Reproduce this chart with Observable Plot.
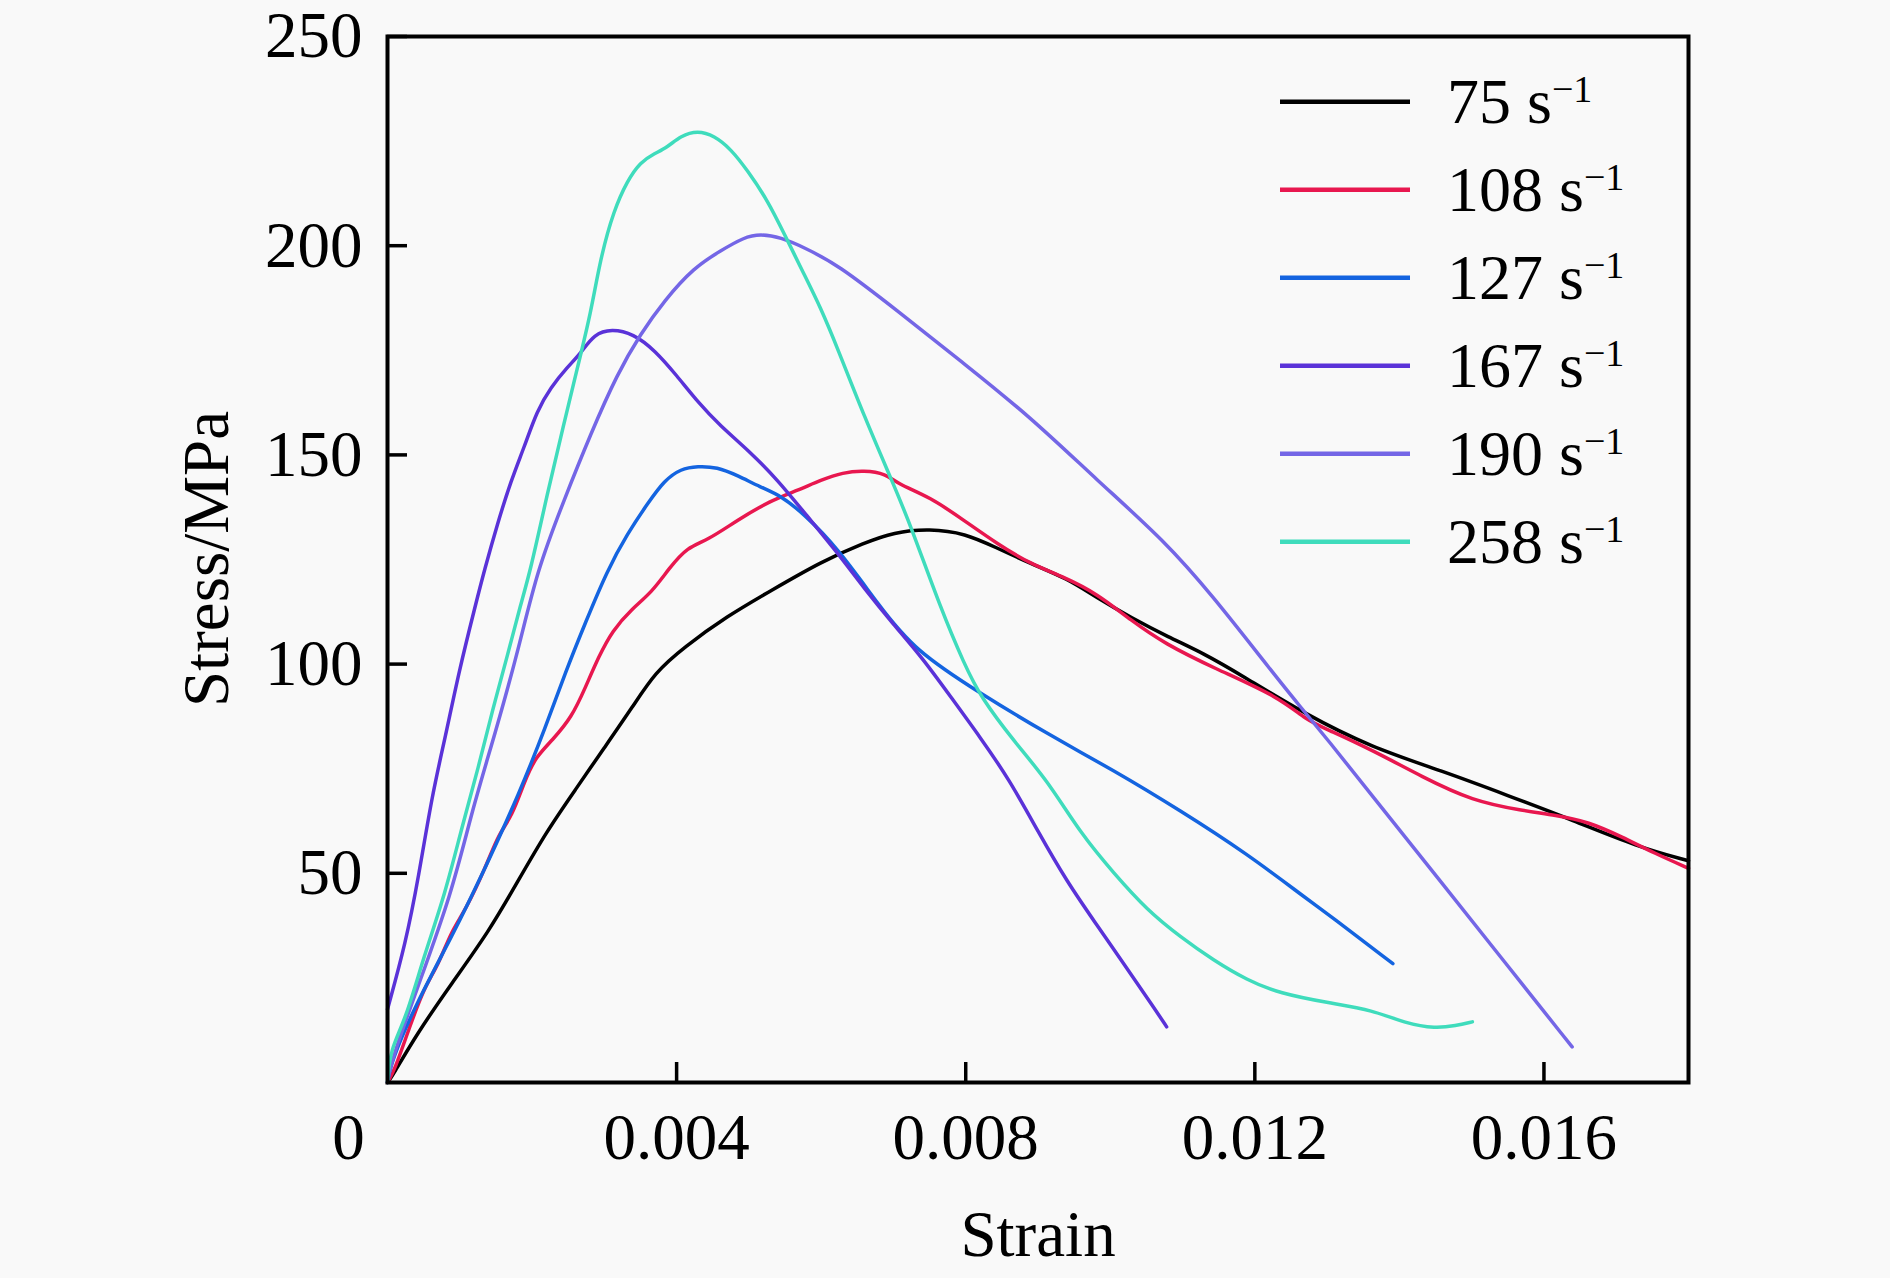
<!DOCTYPE html>
<html><head><meta charset="utf-8">
<script src="https://cdn.jsdelivr.net/npm/d3@7"></script>
<script src="https://cdn.jsdelivr.net/npm/@observablehq/plot@0.6"></script>
<style>
html,body{margin:0;padding:0;background:#f9f9f9;}
#chart{width:1890px;height:1278px;}
</style></head><body><div id="chart"></div>
<script>
const seriesLabels = ["75", "108", "127", "167", "190", "258"];
const seriesColors = ["#000000", "#e8174f", "#1464e0", "#5a32d8", "#7466e6", "#3fdcbc"];

const strain75 = [0, 0.00005, 0.0004, 0.0009, 0.0014, 0.0018, 0.0022, 0.0026, 0.003, 0.0034, 0.0037, 0.0041, 0.0047, 0.0053, 0.0060, 0.0066, 0.0070, 0.0075, 0.0080, 0.0084, 0.0089, 0.0094, 0.0098, 0.0103, 0.0108, 0.0113, 0.0118, 0.0127, 0.0136, 0.0146, 0.0155, 0.0164, 0.0173, 0.0180];
const stress75 = [0, 1, 11.5, 24, 36, 48, 60, 70, 80, 90, 98, 104, 111.5, 117.5, 124.5, 129, 131.5, 132.4, 131.2, 128, 124, 120.5, 116, 111, 106.5, 102.5, 97.5, 88, 80.2, 74.4, 68.6, 62.7, 56.3, 53];

const strain108 = [0, 0.0001, 0.0003, 0.00051, 0.0007, 0.00089, 0.00108, 0.00136, 0.00154, 0.00172, 0.0019, 0.00205, 0.00228, 0.00255, 0.00274, 0.00292, 0.00311, 0.00338, 0.00366, 0.0039, 0.00415, 0.00443, 0.00484, 0.0053, 0.00567, 0.0060, 0.0063, 0.00659, 0.0069, 0.00705, 0.00751, 0.00798, 0.00844, 0.0089, 0.00936, 0.00982, 0.01029, 0.01075, 0.01144, 0.01234, 0.01271, 0.01303, 0.01363, 0.01432, 0.01501, 0.0157, 0.01616, 0.01662, 0.01708, 0.01754, 0.0180];
const stress108 = [0, 3, 13, 22.8, 28, 36.4, 41.2, 51.5, 59.5, 63.5, 72.2, 77.8, 81.8, 87.3, 94.5, 101.7, 108, 113.2, 117.2, 123, 128, 129.6, 134.4, 139.1, 141.5, 144, 145.8, 146.3, 145.5, 143.1, 139.9, 134.3, 128.7, 123.9, 120.8, 116.8, 110.4, 104.9, 99, 92.1, 86.6, 84.2, 79.4, 73, 67.3, 65, 63.9, 62.3, 58.7, 54.7, 51.2];

const strain127 = [0, 0.00005, 0.0004, 0.00089, 0.00136, 0.00182, 0.00219, 0.00246, 0.00274, 0.00304, 0.00332, 0.0036, 0.00383, 0.00406, 0.00429, 0.00456, 0.00484, 0.00516, 0.00544, 0.00576, 0.00622, 0.0068, 0.00729, 0.00821, 0.00913, 0.01005, 0.01097, 0.01189, 0.01271, 0.01303, 0.01391];
const stress127 = [0, 5, 19, 34.8, 51.5, 69, 85, 98, 110, 122.4, 131.2, 138.4, 143.9, 146.7, 147.3, 147.1, 145.1, 142.3, 140.3, 135.9, 127.9, 114, 103.3, 92.9, 83.3, 74.6, 65, 54.7, 44, 40, 28.4];

const strain167 = [0, 0.00025, 0.00043, 0.00062, 0.0008, 0.00099, 0.00122, 0.00134, 0.00152, 0.00171, 0.00189, 0.00207, 0.00226, 0.00249, 0.00267, 0.00286, 0.0031, 0.0034, 0.0037, 0.0040, 0.0043, 0.0046, 0.0050, 0.0054, 0.0058, 0.0062, 0.0066, 0.0070, 0.0074, 0.0078, 0.0082, 0.0086, 0.0090, 0.0094, 0.0098, 0.0102, 0.0106, 0.01078];
const stress167 = [17.5, 33.2, 49.1, 69, 82.5, 98.4, 114.3, 122.4, 133.5, 143.9, 151.8, 160.6, 166.2, 171, 174.2, 178.9, 180.1, 179, 175, 169, 162.5, 157, 151, 144, 135.5, 127.2, 118, 109.5, 101.5, 92, 82.5, 72.5, 60, 48, 38, 28, 18, 13.3];

const strain190 = [0, 0.00005, 0.0004, 0.00089, 0.00117, 0.00149, 0.00182, 0.00207, 0.00244, 0.00281, 0.00318, 0.0035, 0.00383, 0.00424, 0.00461, 0.00493, 0.00516, 0.00544, 0.00576, 0.00622, 0.00705, 0.00798, 0.0089, 0.00982, 0.01075, 0.01143, 0.01211, 0.01257, 0.01303, 0.01363, 0.01455, 0.01547, 0.01639];
const stress190 = [0, 5, 22, 45.2, 65.1, 83.4, 104, 122.4, 139.1, 155, 169.4, 178.9, 186.9, 194.8, 198.8, 202, 202.8, 202, 199.6, 195.6, 184.5, 171.8, 159, 143.9, 129.5, 116, 101, 91, 81.5, 68.4, 48.5, 28.5, 8.5];

const strain258 = [0, 0.00004, 0.00025, 0.0005, 0.0008, 0.00103, 0.00126, 0.00145, 0.00168, 0.00182, 0.00198, 0.00221, 0.00244, 0.00263, 0.00281, 0.00295, 0.00313, 0.00332, 0.0035, 0.00369, 0.00387, 0.00406, 0.00429, 0.00452, 0.00475, 0.00498, 0.00526, 0.00549, 0.00576, 0.00599, 0.00622, 0.0066, 0.0070, 0.00723, 0.00766, 0.00798, 0.00821, 0.00867, 0.00913, 0.00959, 0.01005, 0.01051, 0.01097, 0.01143, 0.01189, 0.01234, 0.01303, 0.01363, 0.01409, 0.0145, 0.01478, 0.01501];
const stress258 = [0, 8, 15, 30, 45.2, 61.1, 75.4, 88.9, 103.3, 112.9, 122.4, 140.7, 157.4, 171, 183.7, 197.3, 208.4, 215.6, 220, 222, 223.5, 226.3, 227.5, 226.3, 223.1, 218, 210.8, 202.8, 193.3, 185.3, 175.8, 159, 143, 133.5, 113, 100, 92, 81.5, 72.2, 59.5, 50, 41.2, 34.8, 29.2, 24.5, 21.3, 19, 17.3, 14.1, 12.9, 13.6, 14.5];

const yTicks = [50, 100, 150, 200, 250];
const xTicks = [0.004, 0.008, 0.012, 0.016];
const xTickLabels = ["0.004", "0.008", "0.012", "0.016"];
const originLabel = ["0"];
const yTitle = "Stress/MPa";
const xTitle = "Strain";

const series = [[strain75, stress75], [strain108, stress108], [strain127, stress127], [strain167, stress167], [strain190, stress190], [strain258, stress258]];
const rows = series.flatMap(([xs, ys], i) => xs.map((x, j) => ({strain: x, stress: ys[j], rate: seriesLabels[i]})));

const font = "'Liberation Serif', 'Times New Roman', serif";
const plot = Plot.plot({
  width: 1890, height: 1278,
  marginLeft: 387, marginRight: 202, marginTop: 36, marginBottom: 196,
  style: {fontFamily: font, background: "#f9f9f9", color: "black", overflow: "visible"},
  x: {domain: [0, 0.018]},
  y: {domain: [0, 250]},
  color: {domain: seriesLabels, range: seriesColors},
  marks: [
    Plot.line(rows, {x: "strain", y: "stress", z: "rate", stroke: "rate", strokeWidth: 3.5, curve: "basis"}),
    Plot.frame({stroke: "black", strokeWidth: 4}),
    Plot.axisY(yTicks, {tickSize: -20, tickPadding: 45, strokeWidth: 3.5, fontSize: 65, label: null, tickFormat: d => String(d)}),
    Plot.axisX(xTicks, {tickSize: -20, tickPadding: 50, strokeWidth: 3.5, fontSize: 65, label: null, tickFormat: d => xTickLabels[xTicks.indexOf(d)]}),
    Plot.axisX([0], {tickSize: 0, tickPadding: 30, dx: -39, fontSize: 65, label: null, tickFormat: () => originLabel[0]}),
    Plot.text([xTitle], {text: d => d, frameAnchor: "bottom", dy: 153, fontSize: 65, lineAnchor: "middle"})
  ]
});

const svg = d3.select(plot);
svg.append("text")
  .attr("transform", "translate(207,559) rotate(-90)")
  .attr("text-anchor", "middle").attr("dy", "0.33em")
  .attr("font-family", font).attr("font-size", 65).attr("fill", "black")
  .text(yTitle);

const color = plot.scale("color");
const lg = svg.append("g").attr("font-family", font).attr("font-size", 64).attr("fill", "black").attr("text-anchor", "start");
seriesLabels.forEach((lab, i) => {
  const y = 101.7 + i * 88;
  lg.append("line").attr("x1", 1280).attr("x2", 1410).attr("y1", y).attr("y2", y)
    .attr("stroke", color.apply(lab)).attr("stroke-width", 4.5);
  const t = lg.append("text").attr("x", 1447).attr("y", y).attr("dy", "0.33em");
  t.append("tspan").text(lab + " s");
  t.append("tspan").attr("dy", "-0.55em").attr("font-size", 38).text("\u22121");
});

document.getElementById("chart").appendChild(plot);
</script></body></html>
